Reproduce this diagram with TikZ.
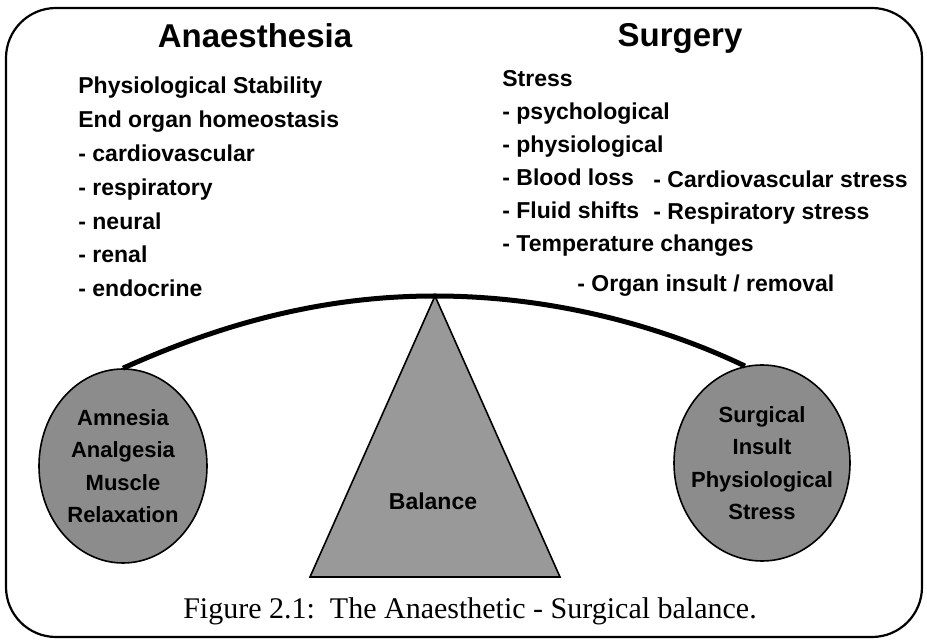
\documentclass[tikz,border=0pt]{standalone}
\usepackage{fontspec}
\setmainfont{Liberation Serif}
\setsansfont{Liberation Sans}
\usetikzlibrary{shapes.geometric}
\colorlet{discgray}{black!45}
\colorlet{conegray}{black!40}

\begin{document}
\begin{tikzpicture}[x=0.5pt, y=-0.5pt,
    heading/.style={font=\sffamily\bfseries\fontsize{16.5}{20}\selectfont, anchor=base, inner sep=0pt},
    item/.style={font=\sffamily\bfseries\fontsize{11.5}{14}\selectfont, anchor=base west, inner sep=0pt},
    disc/.style={ellipse, draw=black, line width=0.8pt, fill=discgray, inner sep=0pt},
    disclabel/.style={font=\sffamily\bfseries\fontsize{11}{16.2}\selectfont, align=center, inner sep=0pt}]
    \useasboundingbox (0,0) rectangle (927,640);
    \draw[line width=1.1pt, rounded corners=25pt] (6,8) rectangle (922,637);

    \node[heading] (anaesthesia) at (255,48) {Anaesthesia};
    \node[heading] (surgery) at (680,47) {Surgery};
    \foreach \txt [count=\i from 0] in {Physiological Stability, End organ homeostasis,
        - cardiovascular, - respiratory, - neural, - renal, - endocrine}
      \node[item] (anae\i) at (78, {94+33.8*\i}) {\txt};
    \foreach \txt [count=\i from 0] in {Stress, - psychological, - physiological,
        - Blood loss, - Fluid shifts, - Temperature changes}
      \node[item] (surg\i) at (502, {87+33*\i}) {\txt};
    \node[item] (cardio) at (653,188) {- Cardiovascular stress};
    \node[item] (resp) at (653,220) {- Respiratory stress};
    \node[item] (organ) at (577,292) {- Organ insult / removal};

    \coordinate (apex) at (435,296);
    \draw[fill=conegray, line width=0.8pt] (310,577) -- (apex) -- (560,577) -- cycle;
    \node[item, anchor=base] (balance) at (433,510) {Balance};

    \node[disc, minimum width=84pt, minimum height=97pt] (amnesia) at (123,466) {};
    \node[disc, minimum width=88pt, minimum height=98pt] (insult) at (762,463) {};
    \node[disclabel] (amnesiatext) at (amnesia) {Amnesia\\Analgesia\\Muscle\\Relaxation};
    \node[disclabel] (insulttext) at (insult) {Surgical\\Insult\\Physiological\\Stress};

    \draw[line width=2.5pt] (amnesia.north) .. controls (230,320) and (330,296) .. (apex)
      .. controls (560,296) and (670,330) .. (insult.100);

    \node[font=\fontsize{15}{18}\selectfont, anchor=base, inner sep=0pt] (caption) at (470,619)
      {Figure 2.1:\ \ The Anaesthetic - Surgical balance.};
\end{tikzpicture}
\end{document}
